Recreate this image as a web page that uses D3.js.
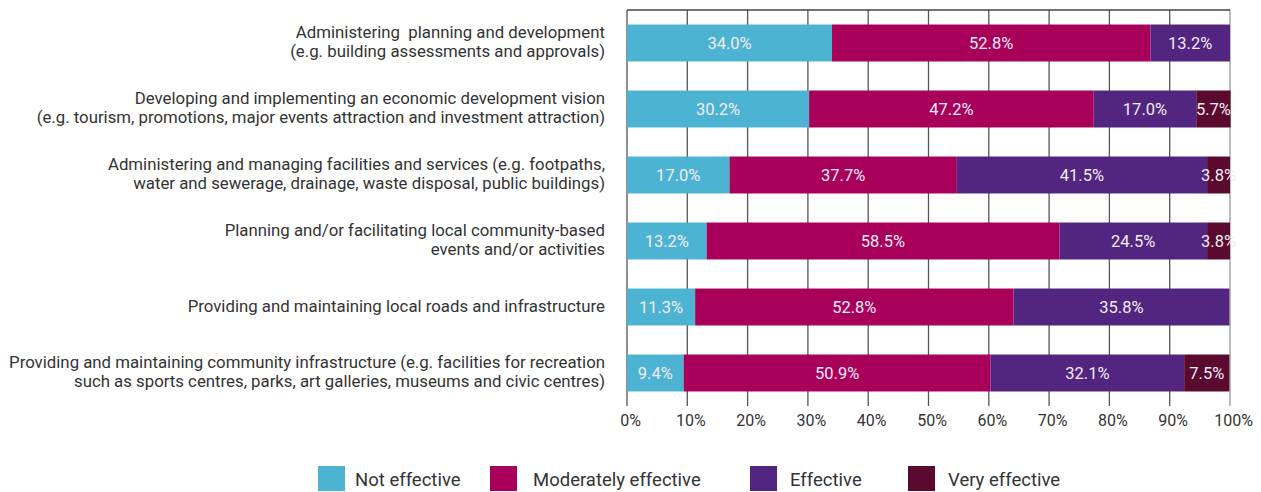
<!DOCTYPE html>
<html><head><meta charset="utf-8">
<script src="https://cdn.jsdelivr.net/npm/d3@7"></script>
<style>body{margin:0;background:#fff}svg{display:block}text{font-family:Roboto,"Noto Sans",sans-serif;white-space:pre}</style>
</head><body>
<svg id="c" width="1261" height="492"></svg>
<script>
const categories = [
  ["Administering  planning and development", "(e.g. building assessments and approvals)"],
  ["Developing and implementing an economic development vision", "(e.g. tourism, promotions, major events attraction and investment attraction)"],
  ["Administering and managing facilities and services (e.g. footpaths,", "water and sewerage, drainage, waste disposal, public buildings)"],
  ["Planning and/or facilitating local community-based", "events and/or activities"],
  ["Providing and maintaining local roads and infrastructure"],
  ["Providing and maintaining community infrastructure (e.g. facilities for recreation", "such as sports centres, parks, art galleries, museums and civic centres)"]
];
const seriesNames = ["Not effective", "Moderately effective", "Effective", "Very effective"];
const notEffective = [34.0, 30.2, 17.0, 13.2, 11.3, 9.4];
const moderatelyEffective = [52.8, 47.2, 37.7, 58.5, 52.8, 50.9];
const effective = [13.2, 17.0, 41.5, 24.5, 35.8, 32.1];
const veryEffective = [0, 5.7, 3.8, 3.8, 0, 7.5];
const colors = ["#4db3d2", "#a8005a", "#512580", "#5a0a2e"];
const tickValues = [0,10,20,30,40,50,60,70,80,90,100];

const svg = d3.select("#c");
const L = 627, R = 1230, T = 10, B = 406;
const x = d3.scaleLinear().domain([0,100]).range([L,R]);
const y = d3.scaleBand().domain(d3.range(categories.length)).range([T,B]).paddingInner(0.44).paddingOuter(0.22);

// grid
const g = svg.append("g");
g.selectAll("line.v").data(tickValues).join("line")
  .attr("x1", d=>x(d)).attr("x2", d=>x(d)).attr("y1", T).attr("y2", B)
  .attr("stroke", d => d===100 ? "#999" : "#555").attr("stroke-width", 1.3);
g.append("line").attr("x1", L).attr("x2", R).attr("y1", T).attr("y2", T).attr("stroke", "#444").attr("stroke-width", 1.3);

const table = categories.map((c,i)=>[notEffective[i], moderatelyEffective[i], effective[i], veryEffective[i]]);
const barG = svg.append("g");
table.forEach((vals,i)=>{
  let acc = 0;
  vals.forEach((v,j)=>{
    if (v<=0) return;
    const x0 = x(acc), x1 = x(acc+v);
    barG.append("rect").attr("x", x0).attr("y", y(i)).attr("width", x1-x0).attr("height", y.bandwidth()).attr("fill", colors[j]);
    barG.append("text").attr("x", (x0+x1)/2).attr("y", y(i)+y.bandwidth()/2).attr("dy","0.36em")
      .attr("text-anchor","middle").attr("fill","#f2ecf4").attr("font-size", 16.5).text(v.toFixed(1)+"%");
    acc += v;
  });
});

// category labels
categories.forEach((lines,i)=>{
  const cy = y(i)+y.bandwidth()/2 - 1.5;
  const n = lines.length, lh = 19;
  lines.forEach((t,k)=>{
    svg.append("text").attr("x", 605).attr("y", cy + (k-(n-1)/2)*lh).attr("dy","0.36em")
      .attr("text-anchor","end").attr("fill","#333").attr("font-size", 16.8).text(t);
  });
});

// x axis labels
const ax = svg.append("g").attr("transform", `translate(3,${B})`)
  .call(d3.axisBottom(x).tickValues(tickValues).tickFormat(d=>d+"%").tickSize(0).tickPadding(9));
ax.select(".domain").remove();
ax.selectAll("text").attr("font-size", 16).attr("fill","#333").attr("font-family","Roboto,sans-serif");

// legend
const legX = [318, 490, 750, 908];
const legTX = [355, 533, 790, 948];
seriesNames.forEach((s,j)=>{
  svg.append("rect").attr("x", legX[j]).attr("y", 466).attr("width", 27).attr("height", 25).attr("fill", colors[j]);
  svg.append("text").attr("x", legTX[j]).attr("y", 479).attr("dy","0.36em").attr("fill","#333").attr("font-size", 18.5).text(s);
});
</script>
</body></html>
